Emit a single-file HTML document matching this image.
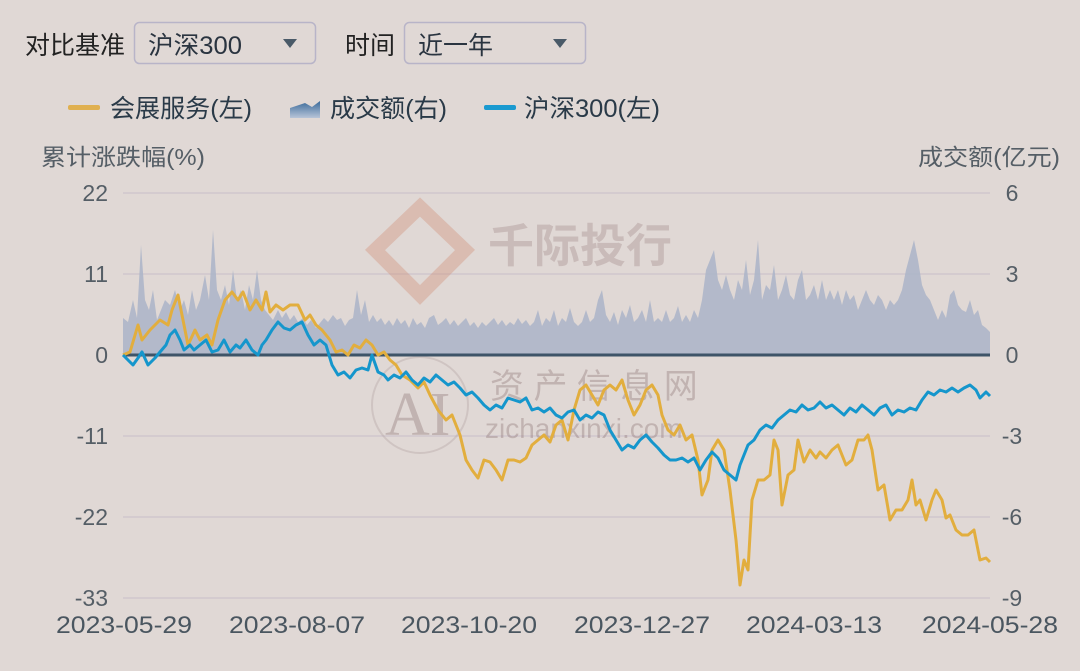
<!DOCTYPE html>
<html><head><meta charset="utf-8"><style>
html,body{margin:0;padding:0;background:#e0d8d5;}
body{width:1080px;height:666px;overflow:hidden;font-family:"Liberation Sans","Noto Sans CJK SC",sans-serif;}
</style></head><body>
<svg width="1080" height="666" viewBox="0 0 1080 666" xmlns="http://www.w3.org/2000/svg" font-family="Liberation Sans, Noto Sans CJK SC, sans-serif">
<rect width="1080" height="666" fill="#e0d8d5"/>
<!-- controls -->
<text x="25" y="54" font-size="25" fill="#222" textLength="100" lengthAdjust="spacingAndGlyphs">对比基准</text>
<rect x="134.5" y="22.5" width="181" height="41" rx="5" fill="none" stroke="#b8b4c8" stroke-width="1.5"/>
<text x="148" y="54" font-size="25" fill="#2a3440" textLength="94" lengthAdjust="spacingAndGlyphs">沪深300</text>
<path d="M283 39 L297 39 L290 48 Z" fill="#4a5a68"/>
<text x="345" y="54" font-size="25" fill="#222">时间</text>
<rect x="404.5" y="22.5" width="181" height="41" rx="5" fill="none" stroke="#b8b4c8" stroke-width="1.5"/>
<text x="418" y="54" font-size="25" fill="#2a3440">近一年</text>
<path d="M553 39 L567 39 L560 48 Z" fill="#4a5a68"/>
<!-- legend -->
<rect x="68" y="105" width="32" height="5" rx="2" fill="#e0b050"/>
<text x="110" y="117" font-size="25" fill="#2a3a48" textLength="142" lengthAdjust="spacingAndGlyphs">会展服务(左)</text>
<defs><linearGradient id="lg" x1="0" y1="0" x2="0" y2="1"><stop offset="0" stop-color="#3a6a9a"/><stop offset="1" stop-color="#b8c4d8"/></linearGradient></defs>
<path d="M290 118 L290 108 L305 103 L312 107 L320 101 L320 118 Z" fill="url(#lg)"/>
<text x="330" y="117" font-size="25" fill="#2a3a48" textLength="117" lengthAdjust="spacingAndGlyphs">成交额(右)</text>
<rect x="484" y="105" width="32" height="5" rx="2" fill="#1a9ad0"/>
<text x="524" y="117" font-size="25" fill="#2a3a48" textLength="136" lengthAdjust="spacingAndGlyphs">沪深300(左)</text>
<!-- axis titles -->
<text x="41" y="165" font-size="23" fill="#555e66" textLength="164" lengthAdjust="spacingAndGlyphs">累计涨跌幅(%)</text>
<text x="918" y="165" font-size="23" fill="#555e66" textLength="142" lengthAdjust="spacingAndGlyphs">成交额(亿元)</text>
<!-- gridlines -->
<g stroke="#cdc3cc" stroke-width="1.2">
<line x1="123" y1="193" x2="990" y2="193"/><line x1="123" y1="274" x2="990" y2="274"/>
<line x1="123" y1="436" x2="990" y2="436"/><line x1="123" y1="517" x2="990" y2="517"/>
<line x1="123" y1="598" x2="990" y2="598"/>
</g>
<g font-size="23" fill="#555e66" text-anchor="end">
<text x="108" y="201">22</text><text x="108" y="282">11</text><text x="108" y="363">0</text>
<text x="108" y="444">-11</text><text x="108" y="525">-22</text><text x="108" y="606">-33</text>
</g>
<g font-size="23" fill="#555e66" text-anchor="middle">
<text x="1012" y="201">6</text><text x="1012" y="282">3</text><text x="1012" y="363">0</text>
<text x="1012" y="444">-3</text><text x="1012" y="525">-6</text><text x="1012" y="606">-9</text>
</g>
<g font-size="24" fill="#4a5660" text-anchor="middle">
<text x="124" y="633" textLength="136" lengthAdjust="spacingAndGlyphs">2023-05-29</text>
<text x="297" y="633" textLength="136" lengthAdjust="spacingAndGlyphs">2023-08-07</text>
<text x="469" y="633" textLength="136" lengthAdjust="spacingAndGlyphs">2023-10-20</text>
<text x="642" y="633" textLength="136" lengthAdjust="spacingAndGlyphs">2023-12-27</text>
<text x="814" y="633" textLength="136" lengthAdjust="spacingAndGlyphs">2024-03-13</text>
<text x="990" y="633" textLength="136" lengthAdjust="spacingAndGlyphs">2024-05-28</text>
</g>
<!-- watermarks -->
<g opacity="0.35">
<path d="M420 207 L465 250 L420 295 L375 250 Z" fill="none" stroke="#d08a70" stroke-width="14"/>
<text x="488" y="262" font-size="46" fill="#a08888" font-weight="bold">千际投行</text>
<circle cx="420" cy="405" r="48" fill="none" stroke="#b0a0a0" stroke-width="2"/>
<text x="385" y="435" font-size="62" fill="#8a7070" font-family="Liberation Serif, serif">AI</text>
<text x="490" y="398" font-size="34" fill="#8a7070">资 产 信 息 网</text>
<text x="485" y="438" font-size="28" fill="#8a7070">zichanxinxi.com</text>
</g>
<!-- volume area -->
<path fill="#aab4c8" opacity="0.85" d="M123 355 L123 318 L128 322 L133 300 L137 318 L141 245 L145 300 L149 310 L153 290 L157 320 L161 310 L165 300 L170 305 L175 290 L180 310 L184 300 L188 315 L192 290 L196 310 L200 300 L205 275 L209 300 L213 230 L217 290 L221 300 L225 285 L229 305 L233 270 L237 300 L241 290 L245 310 L249 285 L253 300 L257 270 L261 300 L265 310 L269 315 L273 320 L278 310 L282 318 L286 312 L290 320 L294 315 L298 322 L303 318 L307 325 L311 320 L316 328 L320 323 L324 318 L328 322 L333 315 L337 320 L341 318 L345 326 L349 320 L353 318 L357 290 L361 315 L365 300 L369 322 L373 315 L377 322 L381 318 L385 325 L389 320 L393 326 L397 318 L401 324 L405 320 L409 328 L413 318 L417 325 L421 322 L425 328 L429 318 L434 315 L438 325 L442 322 L446 318 L450 325 L454 320 L458 326 L462 322 L466 318 L470 326 L474 322 L478 328 L482 322 L486 326 L490 322 L494 318 L498 325 L502 320 L506 326 L510 322 L514 325 L518 318 L522 324 L526 320 L530 326 L534 322 L538 310 L542 326 L546 318 L550 322 L554 310 L558 326 L562 318 L566 322 L570 308 L574 322 L578 326 L582 322 L586 310 L590 322 L594 318 L598 300 L602 290 L606 315 L610 322 L614 312 L618 325 L622 310 L626 318 L630 305 L634 322 L638 318 L642 310 L646 322 L650 300 L654 322 L658 318 L662 322 L666 310 L670 322 L674 318 L678 306 L682 322 L686 315 L690 322 L694 310 L698 318 L702 300 L706 270 L710 260 L714 250 L718 280 L722 290 L726 275 L730 290 L734 300 L738 280 L742 290 L746 260 L750 295 L754 280 L758 240 L762 300 L766 285 L770 290 L774 265 L778 300 L782 290 L786 275 L790 295 L794 300 L798 280 L802 270 L806 300 L810 295 L814 285 L818 300 L822 280 L826 300 L830 290 L834 300 L838 290 L842 305 L846 290 L850 300 L854 295 L858 310 L862 300 L866 290 L870 300 L874 305 L878 295 L882 300 L886 310 L890 300 L894 305 L898 300 L902 290 L906 270 L910 255 L914 240 L918 260 L922 285 L926 295 L930 300 L934 310 L938 320 L942 310 L946 318 L950 295 L954 290 L958 305 L962 310 L966 312 L970 300 L974 315 L978 310 L982 325 L986 328 L990 332 L990 355 Z"/>
<!-- zero line -->
<line x1="123" y1="355" x2="990" y2="355" stroke="#3e5468" stroke-width="3"/>
<!-- gold -->
<polyline fill="none" stroke="#e2ae3e" stroke-width="3" stroke-linejoin="round" points="123,355 130,352 138,325 142,340 150,330 160,320 168,325 172,310 178,295 183,320 188,345 195,330 200,340 207,335 212,345 218,320 225,300 232,292 238,300 243,292 250,310 256,300 262,310 266,292 270,312 276,305 283,310 290,305 298,305 305,320 310,315 316,325 322,330 330,340 336,352 342,350 348,355 354,345 360,348 366,340 372,345 378,355 384,352 390,360 396,365 402,375 410,380 418,388 424,382 430,395 438,410 446,420 452,415 460,435 466,460 472,470 478,478 484,460 490,462 496,470 502,480 508,460 514,460 520,462 526,458 532,445 538,440 544,435 550,442 556,425 562,420 568,440 574,410 580,390 586,385 592,395 598,405 604,390 610,385 616,390 622,380 628,400 634,415 640,405 646,390 652,385 658,395 662,415 668,430 674,435 680,425 686,440 692,435 698,460 702,495 708,480 712,450 718,440 724,450 730,490 736,540 740,585 744,560 748,570 752,500 758,480 764,480 770,475 774,440 778,450 782,505 788,475 794,470 798,440 804,462 810,450 816,458 820,452 826,458 832,450 838,445 846,465 852,460 858,440 864,440 868,435 872,450 878,490 884,485 890,520 896,510 902,510 908,500 912,480 916,505 920,500 926,520 932,500 936,490 942,500 946,518 950,515 956,530 962,535 968,535 974,530 980,560 986,558 990,562"/>
<!-- blue -->
<polyline fill="none" stroke="#1596cc" stroke-width="3" stroke-linejoin="round" points="123,355 128,360 133,365 138,358 142,352 148,365 155,358 160,352 166,345 170,335 175,330 180,340 184,350 190,345 194,350 200,345 206,340 212,352 218,350 224,340 230,352 236,345 240,348 246,340 252,350 258,355 262,345 266,340 272,330 278,322 284,328 290,330 296,325 302,322 308,335 314,345 320,340 326,345 332,365 338,375 344,372 350,378 356,370 362,368 368,370 372,355 378,372 384,375 388,380 394,375 400,378 406,372 412,380 418,385 424,378 430,382 436,375 442,380 448,385 454,382 460,388 466,395 472,392 478,398 484,405 490,410 496,405 502,408 508,398 514,400 520,402 526,398 532,410 538,408 544,412 550,408 556,415 562,418 568,412 574,410 580,420 586,415 592,418 598,412 604,415 610,430 616,440 622,450 628,445 634,448 640,440 646,435 652,442 658,448 664,455 670,460 676,460 682,458 688,462 694,458 700,470 706,460 712,452 718,458 724,470 730,475 736,480 740,465 744,455 748,445 754,440 760,430 766,425 772,428 778,420 784,415 790,410 796,412 802,405 808,410 814,408 820,402 826,408 832,405 838,410 844,415 850,408 856,412 862,405 868,410 874,415 880,408 886,405 892,415 898,410 904,412 910,408 916,410 922,400 928,392 934,395 940,390 946,392 952,388 958,392 964,388 970,385 976,390 980,398 986,392 990,396"/>
</svg>
</body></html>
